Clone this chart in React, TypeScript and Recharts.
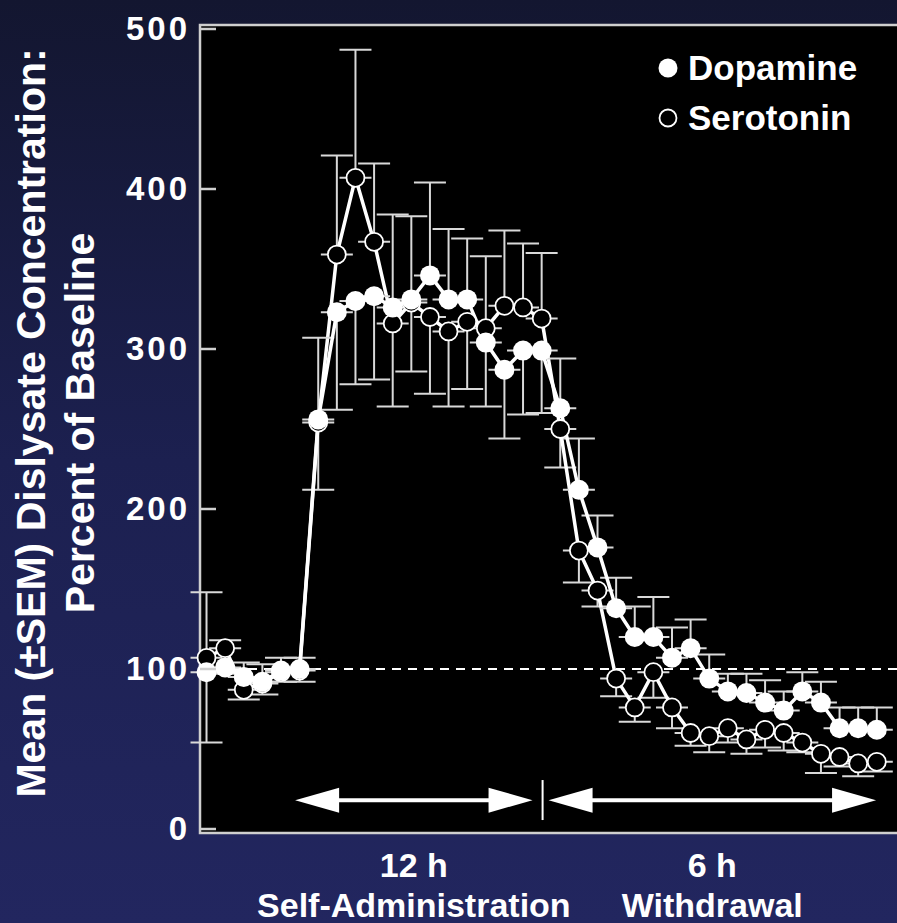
import { LineChart, Line, XAxis, YAxis, ErrorBar, ReferenceLine, ReferenceArea, Legend } from 'recharts';

// sample number along the session (baseline, 12 h self-administration, 6 h withdrawal)
const samples = [0, 1, 2, 3, 4, 5, 6, 7, 8, 9, 10, 11, 12, 13, 14, 15, 16, 17, 18, 19, 20, 21, 22, 23, 24, 25, 26, 27, 28, 29, 30, 31, 32, 33, 34, 35, 36];

const dopamine = [98, 101, 95, 92, 99, 100, 256, 323, 330, 333, 326, 331, 346, 331, 331, 304, 287, 299, 299, 263, 212, 176, 138, 120, 120, 107, 113, 94, 86, 85, 79, 74, 86, 79, 63, 63, 62];
const dopamineSem = [44, 4, 9, 11, 8, 7, 51, 61, 52, 52, 58, 52, 58, 44, 38, 40, 43, 40, 39, 31, 32, 20, 19, 19, 25, 19, 18, 15, 11, 12, 14, 12, 12, 13, 13, 13, 14];

const serotonin = [107, 113, 87, 91, 98, 99, 254, 359, 407, 367, 316, 329, 320, 311, 317, 313, 327, 326, 319, 250, 174, 149, 94, 76, 98, 76, 60, 58, 63, 56, 62, 60, 54, 47, 45, 41, 42];
const serotoninSem = [41, 5, 6, 7, 6, 7, 42, 62, 80, 49, 52, 43, 48, 47, 42, 45, 47, 40, 41, 24, 20, 10, 11, 9, 16, 13, 8, 10, 9, 9, 11, 11, 6, 12, 6, 8, 6];

const yTicks = [0, 100, 200, 300, 400, 500];
const baseline = 100;

// phases drawn under the curves (in sample units)
const phases = [
  { hours: '12 h', name: 'Self-Administration', start: 4.76, end: 17.51 },
  { hours: '6 h', name: 'Withdrawal', start: 18.37, end: 35.96 },
];
const phaseBoundary = 18.05;
const arrowLevel = 18;

const FONT = "'Liberation Sans', Arial, Helvetica, sans-serif";
const FRAME = '#cfcfcf';

// whiskers point away from the other series
const data = samples.map((s, i) => {
  const dopHigher = dopamine[i] >= serotonin[i];
  return {
    sample: s,
    dopamine: dopamine[i],
    serotonin: serotonin[i],
    dopErr: dopHigher ? [0, dopamineSem[i]] : [dopamineSem[i], 0],
    serErr: dopHigher ? [serotoninSem[i], 0] : [0, serotoninSem[i]],
  };
});

const YTick = ({ x, y, payload }: any) => (
  <g>
    <line x1={x} x2={x + 16} y1={y} y2={y} stroke={FRAME} strokeWidth={2.5} />
    <text x={x - 10} y={y} dy="0.33em" textAnchor="end" fill="#fff" fontFamily={FONT}
      fontWeight="bold" fontSize={33} letterSpacing={3}>
      {payload.value}
    </text>
  </g>
);

const XTick = ({ x, y, payload }: any) => {
  const p = phases.find((ph) => (ph.start + ph.end) / 2 === payload.value);
  if (!p) return null;
  return (
    <g fill="#fff" fontFamily={FONT} fontWeight="bold" fontSize={34} textAnchor="middle">
      <text x={x} y={y + 44}>{p.hours}</text>
      <text x={x} y={y + 84}>{p.name}</text>
    </g>
  );
};

const YTitle = ({ viewBox }: any) => {
  const cy = viewBox.y + viewBox.height / 2 - 6;
  return (
    <g fill="#fff" fontFamily={FONT} fontWeight="bold" fontSize={41} textAnchor="middle">
      <text transform={`translate(45, ${cy}) rotate(-90)`}>Mean (±SEM) Dislysate Concentration:</text>
      <text transform={`translate(94, ${cy}) rotate(-90)`}>Percent of Baseline</text>
    </g>
  );
};

const Arrow = ({ x1, x2, y1 }: any) => {
  const left = Math.min(x1, x2);
  const right = Math.max(x1, x2);
  const head = 44;
  const half = 12.5;
  return (
    <g>
      <line x1={left + head - 2} x2={right - head + 2} y1={y1} y2={y1} stroke="#fff" strokeWidth={4} />
      <polygon points={`${left},${y1} ${left + head},${y1 - half} ${left + head},${y1 + half}`} fill="#fff" />
      <polygon points={`${right},${y1} ${right - head},${y1 - half} ${right - head},${y1 + half}`} fill="#fff" />
    </g>
  );
};

const legendItems = [
  { name: 'Dopamine', filled: true },
  { name: 'Serotonin', filled: false },
];

const LegendContent = () => (
  <div style={{ fontFamily: FONT, fontWeight: 'bold', fontSize: 35, color: '#fff' }}>
    {legendItems.map((item) => (
      <div key={item.name} style={{ display: 'flex', alignItems: 'center', height: 50 }}>
        <svg width={22} height={22}>
          <circle cx={11} cy={11} r={item.filled ? 9.5 : 8.5} fill={item.filled ? '#fff' : '#000'}
            stroke={item.filled ? 'none' : '#fff'} strokeWidth={1.8} />
        </svg>
        <span style={{ marginLeft: 9, lineHeight: '50px' }}>{item.name}</span>
      </div>
    ))}
  </div>
);

export default function App() {
  return (
    <div style={{
      position: 'absolute', left: 0, top: 0, width: 897, height: 923, overflow: 'hidden',
      background: 'linear-gradient(180deg, #131630 0%, #1c2050 50%, #22265f 100%)',
    }}>
      <LineChart width={901} height={923} data={data} margin={{ top: 25, right: 0, bottom: 0, left: 0 }}>
        <XAxis dataKey="sample" type="number" domain={[-0.35, 37.3]} height={90}
          ticks={phases.map((p) => (p.start + p.end) / 2)} tick={<XTick />}
          axisLine={false} tickLine={false} tickSize={0} tickMargin={0} interval={0} />
        <YAxis type="number" domain={[-2.5, 502.5]} ticks={yTicks} width={200} tick={<YTick />}
          axisLine={false} tickLine={false} tickSize={0} tickMargin={0} interval={0}
          label={{ content: <YTitle /> }} />
        <ReferenceArea x1={-0.35} x2={37.3} y1={-2.5} y2={502.5} fill="#000" fillOpacity={1}
          stroke={FRAME} strokeWidth={2.5} ifOverflow="visible" />
        <ReferenceLine y={baseline} stroke="#fff" strokeWidth={2.2} strokeDasharray="9 7" />
        {phases.map((p) => (
          <ReferenceLine key={p.name} segment={[{ x: p.start, y: arrowLevel }, { x: p.end, y: arrowLevel }]}
            shape={<Arrow />} ifOverflow="visible" />
        ))}
        <ReferenceLine segment={[{ x: phaseBoundary, y: 5.6 }, { x: phaseBoundary, y: 30.6 }]}
          stroke="#fff" strokeWidth={2} />
        <Legend layout="vertical" align="center" verticalAlign="middle" content={<LegendContent />}
          wrapperStyle={{ position: 'absolute', left: 657, top: 43, width: 240 }} />
        <Line dataKey="serotonin" type="linear" stroke="#fff" strokeWidth={3.5} isAnimationActive={false}
          zIndex={400} dot={{ r: 9, fill: '#000', stroke: '#fff', strokeWidth: 1.8 }} activeDot={false}>
          <ErrorBar dataKey="serErr" width={16} strokeWidth={2} stroke="#d9d9d9" direction="y" />
        </Line>
        <Line dataKey="dopamine" type="linear" stroke="#fff" strokeWidth={3.5} isAnimationActive={false}
          zIndex={500} dot={{ r: 10, fill: '#fff', stroke: 'none' }} activeDot={false}>
          <ErrorBar dataKey="dopErr" width={16} strokeWidth={2} stroke="#d9d9d9" direction="y" />
        </Line>
      </LineChart>
    </div>
  );
}
